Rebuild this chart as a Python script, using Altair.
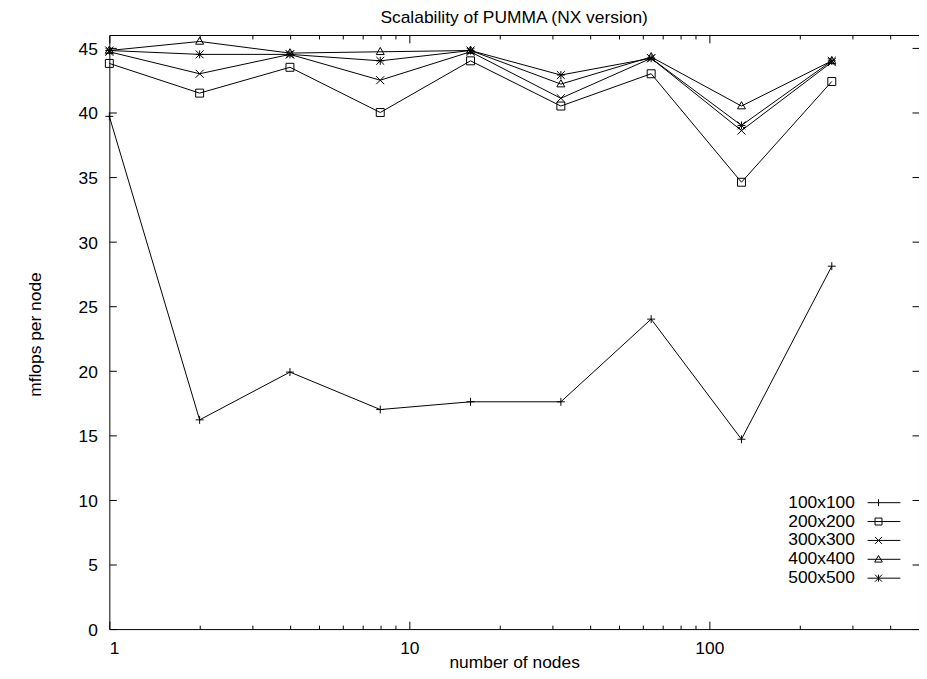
import altair as alt
import pandas as pd

# ---- data ----
series = ["100x100", "200x200", "300x300", "400x400", "500x500"]
nodes = [1, 2, 4, 8, 16, 32, 64, 128, 256]
v100 = [39.7, 16.2, 19.9, 17.0, 17.6, 17.6, 24.0, 14.7, 28.1]
v200 = [43.8, 41.5, 43.5, 40.0, 44.0, 40.5, 43.0, 34.6, 42.4]
v300 = [44.7, 43.0, 44.5, 42.5, 44.7, 41.1, 44.2, 38.6, 43.9]
v400 = [44.8, 45.5, 44.6, 44.7, 44.8, 42.2, 44.3, 40.5, 44.0]
v500 = [44.8, 44.5, 44.5, 44.0, 44.8, 42.9, 44.2, 39.0, 44.0]

x_major = [1, 10, 100]
x_minor = [2, 3, 4, 5, 6, 7, 8, 9, 20, 30, 40, 50, 60, 70, 80, 90, 200, 300, 400, 500]
y_ticks = [0, 5, 10, 15, 20, 25, 30, 35, 40, 45]

rows = []
for s, vals in zip(series, [v100, v200, v300, v400, v500]):
    for n, v in zip(nodes, vals):
        rows.append({"nodes": n, "mflops": v, "series": s})
df = pd.DataFrame(rows)

FONT = "Liberation Sans"
FS = 17.5

# gnuplot-like point symbols
point_paths = [
    "M-1,0H1M0,-1V1",
    "M-1,-1H1V1H-1Z",
    "M-1,-1L1,1M-1,1L1,-1",
    "M0,-1.1L1,0.7H-1Z",
    "M-1,0H1M0,-1V1M-1,-1L1,1M-1,1L1,-1",
]
# legend samples: short line with the symbol on it (units of 4px)
legend_paths = [
    "M-2.75,0H5.5M0,-0.875V0.875",
    "M-2.75,0H5.5M-0.875,-0.875H0.875V0.875H-0.875Z",
    "M-2.75,0H5.5M-0.875,-0.875L0.875,0.875M-0.875,0.875L0.875,-0.875",
    "M-2.75,0H5.5M0,-0.95L0.95,0.7H-0.95Z",
    "M-2.75,0H5.5M0,-0.875V0.875M-0.875,-0.875L0.875,0.875M-0.875,0.875L0.875,-0.875",
]

xscale = alt.Scale(type="log", domain=[1, 500], nice=False)
yscale = alt.Scale(domain=[0, 46], nice=False, zero=False)

x_vals = sorted(x_major + x_minor)
is_major = "indexof([1, 10, 100], datum.value) >= 0"
x_dash = {"condition": {"test": is_major, "value": [8, 3000]}, "value": [4, 3000]}

x_bottom = alt.Axis(
    orient="bottom", values=x_vals, grid=True, gridDash=x_dash, gridColor="black",
    gridOpacity=1, gridWidth=1, ticks=False, domain=False,
    labelExpr=f"{is_major} ? format(datum.value, 'd') : ''", labelOverlap=False,
    labelFont=FONT, labelFontSize=FS, labelColor="black", labelPadding=11,
    title="number of nodes", titleFont=FONT, titleFontSize=FS, titleFontWeight="normal",
    titleColor="black", titleY=39, titleBaseline="alphabetic",
)
x_top = alt.Axis(
    orient="top", values=x_vals, grid=True, gridDash=x_dash, gridColor="black",
    gridOpacity=1, gridWidth=1, ticks=False, domain=False, labels=False, title=None,
)
y_left = alt.Axis(
    orient="left", values=y_ticks, grid=True, gridDash=[7, 3000], gridColor="black",
    gridOpacity=1, gridWidth=1, ticks=False, domain=False,
    labelFont=FONT, labelFontSize=FS, labelColor="black", labelPadding=12, labelOffset=1.5,
    title="mflops per node", titleFont=FONT, titleFontSize=FS, titleFontWeight="normal",
    titleColor="black", titleX=-74, titleY=301, titleAngle=270, titleAlign="center",
    titleBaseline="middle",
)
y_right = alt.Axis(
    orient="right", values=y_ticks, grid=True, gridDash=[7, 3000], gridColor="black",
    gridOpacity=1, gridWidth=1, ticks=False, domain=False, labels=False, title=None,
)

lines = alt.Chart(df).mark_line(color="black", strokeWidth=1).encode(
    x=alt.X("nodes:Q", scale=xscale, axis=x_bottom),
    y=alt.Y("mflops:Q", scale=yscale, axis=y_left),
    detail="series:N",
)

points = alt.Chart(df).mark_point(
    filled=False, color="black", size=64, strokeWidth=1, opacity=1
).encode(
    x=alt.X("nodes:Q", scale=xscale, axis=x_top),
    y=alt.Y("mflops:Q", scale=yscale, axis=y_right),
    shape=alt.Shape("series:N", scale=alt.Scale(domain=series, range=point_paths), legend=None),
)

legend_layer = alt.Chart(df).transform_filter("false").mark_point(
    filled=False, color="black", size=64, strokeWidth=1, opacity=1
).encode(
    x=alt.X("nodes:Q", scale=xscale, axis=None),
    y=alt.Y("mflops:Q", scale=yscale, axis=None),
    shape=alt.Shape(
        "series:N",
        scale=alt.Scale(domain=series, range=legend_paths),
        legend=alt.Legend(
            title=None, orient="none", legendX=765.5, legendY=462, direction="vertical",
            labelAlign="right", labelOffset={"expr": "-32.5"}, labelFont=FONT,
            labelFontSize=FS, labelColor="black", labelLimit=0, symbolSize=64,
            symbolStrokeWidth=1, symbolStrokeColor="black", symbolFillColor="transparent",
            symbolOpacity=1, rowPadding=0, padding=0,
        ),
    ),
)

chart = (
    alt.layer(lines, points, legend_layer)
    .resolve_scale(shape="independent")
    .resolve_axis(x="independent", y="independent")
    .properties(
        width=815,
        height=598,
        title=alt.TitleParams(
            "Scalability of PUMMA (NX version)", font=FONT, fontSize=FS,
            fontWeight="normal", color="black", anchor="middle", frame="group", offset=8.5,
        ),
        autosize=alt.AutoSizeParams(type="none"),
        padding={"left": 102, "top": 25, "right": 0, "bottom": 40},
        background="white",
    )
    .configure_view(stroke="black", strokeWidth=1)
)

chart.save("out.html", embed_options={"renderer": "svg", "actions": False})
